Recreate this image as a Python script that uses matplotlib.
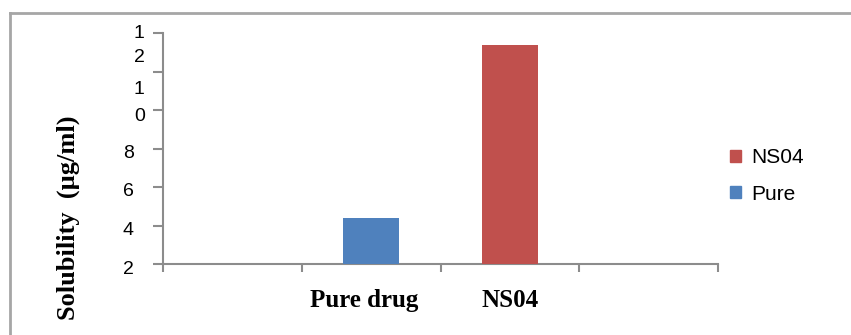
import numpy as np
import matplotlib.pyplot as plt
from matplotlib.lines import Line2D
from matplotlib.patches import Patch
from matplotlib import transforms

# datos
categorias = ['', 'Pure drug', 'NS04', '']
series = ['Pure', 'NS04']
valores = [4.4, 13.4]          # solubilidad (ug/ml)
posiciones = [1, 2]            # columna de cada serie
colores = ['#4F81BD', '#C0504D']
yticks = [2, 4, 6, 8, 10, 12, 14]
yticklabels = ['2', '4', '6', '8', '', '', '']
# etiquetas partidas en dos renglones (como salieron en la hoja)
partidas = [(9.64, '0'), (11.04, '1'), (12.75, '2'), (14.0, '1')]

gris = '#8C8C8C'

fig = plt.figure(figsize=(8.51, 3.35), dpi=100)
ax = fig.add_axes([163/851, 1 - 264/335, (718 - 163)/851, (264 - 33)/335])

ax.bar(posiciones, [v - 2 for v in valores], bottom=2, width=0.4,
       color=colores, zorder=3)

ax.set_xlim(-0.5, 3.5)
ax.set_ylim(2, 14)
ax.set_xticks([-0.5, 0.5, 1.5, 2.5, 3.5])
ax.set_xticklabels([])
ax.set_xticks([0, 1, 2, 3], minor=True)
ax.set_xticklabels(categorias, minor=True, fontsize=18, fontweight='bold',
                   family='Liberation Serif')
ax.tick_params(axis='x', which='minor', length=0, pad=18)
ax.tick_params(axis='x', which='major', length=6, color=gris, width=1.5)
etiq = ax.get_xticklabels(minor=True)
etiq[1].set_transform(etiq[1].get_transform() +
                      transforms.ScaledTranslation(-7/100, 0, fig.dpi_scale_trans))

ax.set_yticks(yticks)
ax.set_yticklabels(yticklabels, fontsize=14, family='Liberation Sans')
ax.tick_params(axis='y', length=7, color=gris, width=1.5, pad=14)
baja = transforms.ScaledTranslation(0, -3/100, fig.dpi_scale_trans)
for lab in ax.get_yticklabels():
    lab.set_transform(lab.get_transform() + baja)
trans = transforms.blended_transform_factory(ax.transAxes, ax.transData)
for y, t in partidas:
    ax.text(-0.033, y, t, transform=trans, ha='right', va='center',
            fontsize=14, family='Liberation Sans')

for lado in ['top', 'right']:
    ax.spines[lado].set_visible(False)
for lado in ['left', 'bottom']:
    ax.spines[lado].set_color(gris)
    ax.spines[lado].set_linewidth(1.5)

fig.text(68/851, 1 - 218/335, 'Solubility  (µg/ml)', rotation=90,
         ha='center', va='center', fontsize=19, fontweight='bold',
         family='Liberation Serif')

# leyenda
manijas = [Patch(color=colores[1]), Patch(color=colores[0])]
fig.legend(manijas, [series[1], series[0]], loc='center left',
           bbox_to_anchor=(730/851, 1 - 176/335), frameon=False,
           prop={'family': 'Liberation Sans', 'size': 15},
           handlelength=0.53, handleheight=0.53, handletextpad=0.48,
           labelspacing=0.83, borderpad=0, borderaxespad=0)

# marco
fig.add_artist(Line2D([10/851, 10/851], [0, 1 - 13/335], color='#A6A6A6', lw=2))
fig.add_artist(Line2D([10/851, 1], [1 - 13/335, 1 - 13/335], color='#A6A6A6', lw=2))

fig.savefig('out.png', dpi=100)
